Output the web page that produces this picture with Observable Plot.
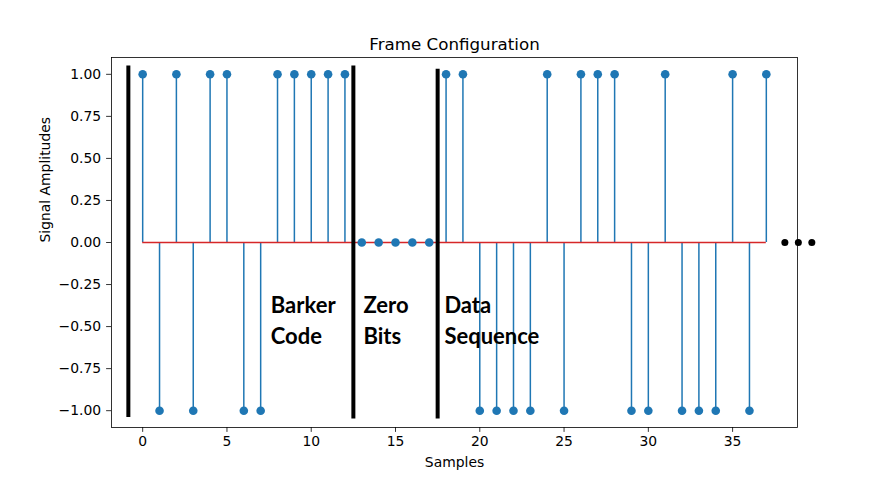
<!DOCTYPE html>
<html><head><meta charset="utf-8">
<script src="https://cdn.jsdelivr.net/npm/d3@7"></script>
<script src="https://cdn.jsdelivr.net/npm/@observablehq/plot@0.6"></script>
<style>body{margin:0;background:#fff}</style>
</head><body><div id="chart"></div>
<script>
const samples = d3.range(38);
const amplitudes = [1,-1,1,-1,1,1,-1,-1,1,1,1,1,1, 0,0,0,0,0, 1,1,-1,-1,-1,-1,1,-1,1,1,1,-1,-1,1,-1,-1,-1,1,-1,1];
const dividerX = [-0.85, 12.5, 17.5];
const dividerTop = [1.05, 1.05, 1.03];
const dividerBottom = [-1.04, -1.05, -1.05];
const ellipsisX = [38.1, 38.9, 39.7];
const labels = ["Barker\nCode", "Zero\nBits", "Data\nSequence"];
const labelX = [7.6, 13.1, 17.9];
const labelY = -0.29;
const xTicks = [0,5,10,15,20,25,30,35];
const yTicks = [-1,-0.75,-0.5,-0.25,0,0.25,0.5,0.75,1];

const data = samples.map((s,i)=>({x:s, y:amplitudes[i]}));
const dividers = dividerX.map((x,i)=>({x, y1:dividerBottom[i], y2:dividerTop[i]}));
const ann = labels.map((t,i)=>({t, x:labelX[i], y:labelY}));

const font = "DejaVu Sans";
const chart = Plot.plot({
  width: 885, height: 480,
  marginLeft: 111, marginRight: 88, marginTop: 57, marginBottom: 53,
  style: {fontFamily: font, fontSize: "13.9px", color: "#000", background: "#fff"},
  x: {domain: [-1.85, 38.85]},
  y: {domain: [-1.1, 1.1]},
  marks: [
    Plot.ruleX(data, {x: "x", y1: 0, y2: "y", stroke: "#1f77b4", strokeWidth: 1.5}),
    Plot.ruleY([0], {x1: 0, x2: 37, stroke: "#d62728", strokeWidth: 1.5}),
    Plot.dot(data, {x: "x", y: "y", r: 4.3, fill: "#1f77b4", stroke: null}),
    Plot.ruleX(dividers, {x: "x", y1: "y1", y2: "y2", stroke: "#000", strokeWidth: 4}),
    Plot.dot(ellipsisX, {x: d=>d, y: 0, r: 3.5, fill: "#000", stroke: null, clip: false}),
    Plot.text(ann, {x: "x", y: "y", text: "t", textAnchor: "start", lineAnchor: "top", lineHeight: 1.41,
      fontFamily: "Lato", fontWeight: "bold", fontSize: 22, fill: "#000"}),
    Plot.frame({stroke: "#000", strokeWidth: 0.8}),
    Plot.axisX(xTicks, {tickSize: 4.9, tickPadding: 4, tickFormat: d=>String(d), fontSize: 13.9, strokeWidth: 0.8, label: null}),
    Plot.axisY(yTicks, {tickSize: 4.9, tickPadding: 5.5, tickFormat: d=>d.toFixed(2).replace("-", "\u2212"), fontSize: 13.9, strokeWidth: 0.8, label: null}),
    Plot.text(["Samples"], {frameAnchor: "bottom", dy: 39, fontSize: 13.9, fill: "#000"}),
    Plot.text(["Signal Amplitudes"], {frameAnchor: "left", dx: -66, rotate: -90, fontSize: 13.9, fill: "#000"}),
    Plot.text(["Frame Configuration"], {frameAnchor: "top", dy: -19, fontSize: 16.7, fill: "#000"})
  ]
});
document.getElementById("chart").appendChild(chart);
</script>
</body></html>
